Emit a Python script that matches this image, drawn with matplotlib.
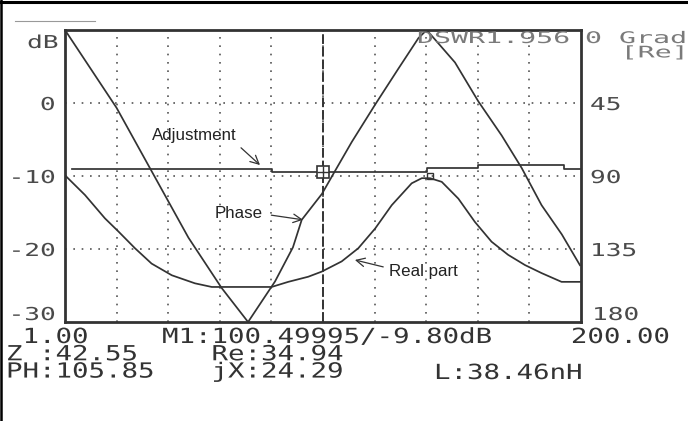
import numpy as np
import matplotlib
matplotlib.use("Agg")
import matplotlib.pyplot as plt
from matplotlib.lines import Line2D
from matplotlib.patheffects import AbstractPathEffect
from matplotlib.transforms import Affine2D

W, H = 688, 421

# traces (frequency 1..200, dB / phase in degrees)
phase_f = [1.0, 20.9, 34.4, 48.6, 61.4, 71.6, 82.0, 88.9, 92.3, 100.1, 105.1, 111.6,
           120.6, 129.5, 137.3, 140.5, 151.4, 160.4, 169.4, 177.1, 184.8, 192.6, 199.6]
phase_deg = [0, 48, 87, 128, 159, 180, 155, 134, 117, 101, 87, 69,
             46, 24, 5, 0, 20, 44, 65, 85, 108, 126, 145]
real_f = [1.0, 8.7, 16.4, 21.6, 28.0, 34.4, 42.2, 51.1, 57.6, 80.7, 87.1, 94.8, 100.0,
          107.7, 114.1, 120.6, 127.0, 134.7, 138.6, 141.8, 146.3, 152.7, 159.1, 165.5,
          171.9, 178.4, 184.8, 192.5, 199.6]
real_db = [-9.9, -12.6, -15.8, -17.6, -19.9, -22.0, -23.6, -24.7, -25.2, -25.2, -24.5, -23.8, -23.1,
           -21.7, -19.9, -17.2, -14.0, -11.0, -10.3, -10.3, -10.8, -13.1, -16.3, -19.0,
           -20.8, -22.2, -23.3, -24.5, -24.5]
adj_f = [3.6, 81.0, 140.5, 160.2, 193.5, 200.0]
adj_db = [-9.04, -9.41, -8.95, -8.49, -9.04, -9.04]
cursor_f, cursor_db = 100.5, -9.41
mark2_f, mark2_db = 141.8, -10.0
db_ticks = [0, -10, -20, -30]
deg_ticks = [45, 90, 135, 180]
row1 = ["1.00", "M1:100.49995/-9.80dB", "200.00"]
row2 = ["Z :42.55", "Re:34.94"]
row3 = ["PH:105.85", "jX:24.29", "L:38.46nH"]

LCD = "DejaVu Sans Mono"
INK = "#333333"


class Wide(AbstractPathEffect):
    """stretch glyphs sideways - the analyser font is much wider than any mono font here"""
    def __init__(self, sx, anchor="left"):
        super().__init__()
        self.sx, self.anchor = sx, anchor

    def draw_path(self, renderer, gc, tpath, affine, rgbFace=None):
        e = tpath.get_extents()
        x0 = {"left": 0.0, "center": (e.x0 + e.x1) / 2, "right": e.x1}[self.anchor]
        t = Affine2D().translate(-x0, 0).scale(self.sx, 1).translate(x0, 0)
        renderer.draw_path(gc, tpath, t + affine, rgbFace)


def lcd(axis, s, xy, off, ha="left", va="center", size=12.8, sx=1.47, color="#4a4a4a"):
    axis.annotate(s, xy=xy, xycoords=("axes fraction", "data"), xytext=off,
                  textcoords="offset pixels", ha=ha, va=va, fontsize=size, family=LCD,
                  color=color, path_effects=[Wide(sx, ha)], annotation_clip=False)


def scr(x, y, s, ha="left", va="baseline", size=15, sx=1.316, color=INK, ls=0.83):
    fig.text(x / W, 1 - y / H, s, ha=ha, va=va, fontsize=size, family=LCD, color=color,
             linespacing=ls, path_effects=[Wide(sx, ha)])


fig = plt.figure(figsize=(W / 100, H / 100), dpi=100)
ax = fig.add_axes([65 / W, 1 - 322 / H, 516 / W, 292 / H])
ax.set_xlim(1, 200); ax.set_ylim(-30, 10)
ax.set_xticks(np.linspace(1, 200, 11)[1:-1]); ax.set_yticks(db_ticks[:-1])
ax.tick_params(length=0, labelbottom=False, labelleft=False)
ax.grid(True, ls=(0, (1, 4)), lw=1.2, color="#555555")
for s in ax.spines.values():
    s.set_linewidth(2); s.set_color(INK)

ax2 = ax.twinx(); ax2.set_ylim(180, 0); ax2.set_axis_off()

# traces
ax.plot(real_f, real_db, color=INK, lw=1.25)
ax.step(adj_f, adj_db, where="post", color=INK, lw=1.25)
ax2.plot(phase_f, phase_deg, color=INK, lw=1.25)
ax.axvline(cursor_f, color=INK, lw=1.4, ls=(0, (5, 1.5)))
ax.plot([cursor_f], [cursor_db], marker="s", ms=8.5, mfc="white", mec=INK, mew=1.2)
ax.plot([cursor_f], [cursor_db], marker="+", ms=8.5, mec=INK, mew=1.0)
ax.plot([mark2_f], [mark2_db], marker="s", ms=5, mfc="none", mec=INK, mew=1.0)

# axis labels, screen style
for v in db_ticks[:-1]:
    lcd(ax, f"{v}", (0, v), (-10, -2), ha="right")
lcd(ax, f"{db_ticks[-1]}", (0, db_ticks[-1]), (-10, 2), ha="right", va="baseline")
lcd(ax, "dB", (0, 10), (-7, -18), ha="right", va="baseline")
for v in deg_ticks[:-1]:
    lcd(ax2, f"{v}", (1, v), (9, -2))
lcd(ax2, f"{deg_ticks[-1]}", (1, deg_ticks[-1]), (11, 2), va="baseline")

scr(417, 43, "DSWR1.956", size=11.5, sx=1.77, color="#7a7a7a")
scr(686, 31, "0 Grad\n[Re]", ha="right", va="top", size=11.5, sx=1.77, color="#7a7a7a", ls=0.95)

# marker readout, three blocks of the screen's character grid
scr(6, 327, f" {row1[0]}\n{row2[0]}\n{row3[0]}", va="top")
scr(162, 327, f"{row1[1]}\n   {row2[1]}\n   {row3[1]}", va="top")
scr(670, 343, row1[2], ha="right")
scr(434, 379, row3[2])

# callouts
arrow = dict(arrowstyle="->,head_length=0.5,head_width=0.25", color=INK, lw=0.9, shrinkB=0)
ax.annotate("Adjustment", xy=(76.2, -8.5), xytext=(50.7, -4.5), ha="center", va="center",
            fontsize=12.2, family="Liberation Sans", color="#222222",
            arrowprops=dict(arrow, relpos=(0.98, 0.1), shrinkA=2))
ax.annotate("Phase", xy=(92.8, -16.0), xytext=(68.1, -15.2), ha="center", va="center",
            fontsize=12.2, family="Liberation Sans", color="#222222",
            arrowprops=dict(arrow, relpos=(1.0, 0.5), shrinkA=4))
ax.annotate("Real part", xy=(112.8, -21.5), xytext=(139.1, -23.15), ha="center", va="center",
            fontsize=12.2, family="Liberation Sans", color="#222222",
            arrowprops=dict(arrow, relpos=(0.0, 0.75), shrinkA=2))

# screen frame and the faint line above the plot
fig.add_artist(Line2D([0, 1], [1 - 1.5 / H] * 2, transform=fig.transFigure, color="k", lw=2.2))
fig.add_artist(Line2D([1.2 / W] * 2, [0, 1], transform=fig.transFigure, color="k", lw=1.8))
fig.add_artist(Line2D([15 / W, 95 / W], [1 - 21 / H] * 2, transform=fig.transFigure,
                      color="#999999", lw=0.8))

fig.savefig("out.png", dpi=100)
